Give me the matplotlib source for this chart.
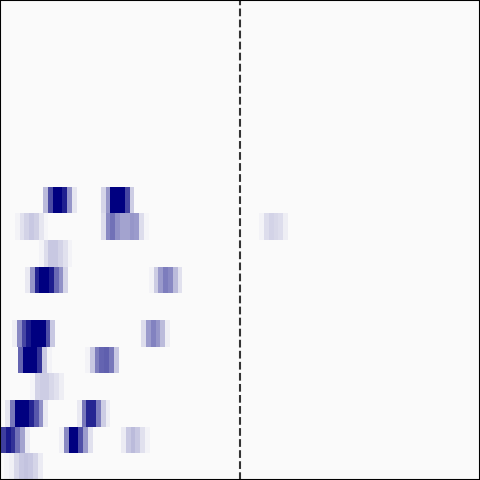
import numpy as np
import matplotlib
matplotlib.use("Agg")
import matplotlib.pyplot as plt
from matplotlib.colors import LinearSegmentedColormap

# rows counted from the top (18 rows in total), x measured in bin units (0..100)
n_rows = 18
x_max = 100
split_at = 50

row_index = [7, 7, 8, 8, 8, 9, 10, 10, 12, 12, 13, 13, 14, 15, 15, 16, 16, 16, 17]
bin_start = [9.0, 21.0, 3.1, 21.0, 54.0, 8.1, 5.2, 31.0, 2.5, 29.4,
             3.75, 17.7, 6.25, 1.04, 16.0, 0.2, 12.3, 25.2, 0.9]
intensity = [
    [0.25, 0.7, 1.0, 1.0, 0.87, 0.4, 0.08],
    [0.15, 0.4, 1.0, 1.0, 1.0, 0.72, 0.18],
    [0.03, 0.1, 0.16, 0.2, 0.17, 0.08, 0.02],
    [0.12, 0.45, 0.55, 0.42, 0.35, 0.35, 0.4, 0.38, 0.12, 0.02],
    [0.03, 0.12, 0.16, 0.14, 0.12, 0.05],
    [0.03, 0.12, 0.2, 0.2, 0.16, 0.1, 0.03],
    [0.07, 0.4, 0.85, 1.0, 1.0, 0.88, 0.58, 0.42, 0.15],
    [0.03, 0.18, 0.38, 0.5, 0.45, 0.25, 0.1],
    [0.05, 0.45, 0.72, 0.9, 1.0, 1.0, 1.0, 0.68, 0.2],
    [0.12, 0.38, 0.48, 0.4, 0.25, 0.05],
    [0.6, 1.0, 1.0, 1.0, 0.8, 0.2, 0.03],
    [0.03, 0.2, 0.5, 0.6, 0.62, 0.52, 0.2],
    [0.02, 0.16, 0.18, 0.18, 0.14, 0.1, 0.05],
    [0.08, 0.52, 1.0, 1.0, 1.0, 0.85, 0.65, 0.42, 0.07],
    [0.07, 0.52, 0.85, 0.85, 0.5, 0.18, 0.05],
    [0.75, 0.9, 0.8, 0.55, 0.35, 0.06],
    [0.04, 0.45, 1.0, 1.0, 0.68, 0.38, 0.1],
    [0.06, 0.2, 0.25, 0.2, 0.1, 0.03],
    [0.02, 0.04, 0.14, 0.2, 0.22, 0.2, 0.15, 0.06],
]

cmap = LinearSegmentedColormap.from_list("navy_fade", ["#fafafa", "#000080"])

fig = plt.figure(figsize=(4.8, 4.8), dpi=100)
ax = fig.add_axes([0, 0, 1, 1])
ax.set_facecolor("#fafafa")

for r, x0, vals in zip(row_index, bin_start, intensity):
    vals = np.asarray(vals)
    xe = x0 + np.arange(len(vals) + 1)
    ye = np.array([r, r + 1])
    ax.pcolormesh(xe, ye, vals[np.newaxis, :], cmap=cmap, vmin=0, vmax=1,
                  shading="flat", antialiased=False)

ax.axvline(split_at, color="#333333", linestyle="--", linewidth=1.5)

ax.set_xlim(0, x_max)
ax.set_ylim(n_rows, 0)
ax.set_xticks([])
ax.set_yticks([])
for s in ax.spines.values():
    s.set_color("black")
    s.set_linewidth(1.5)

fig.savefig("out.png", dpi=100)
